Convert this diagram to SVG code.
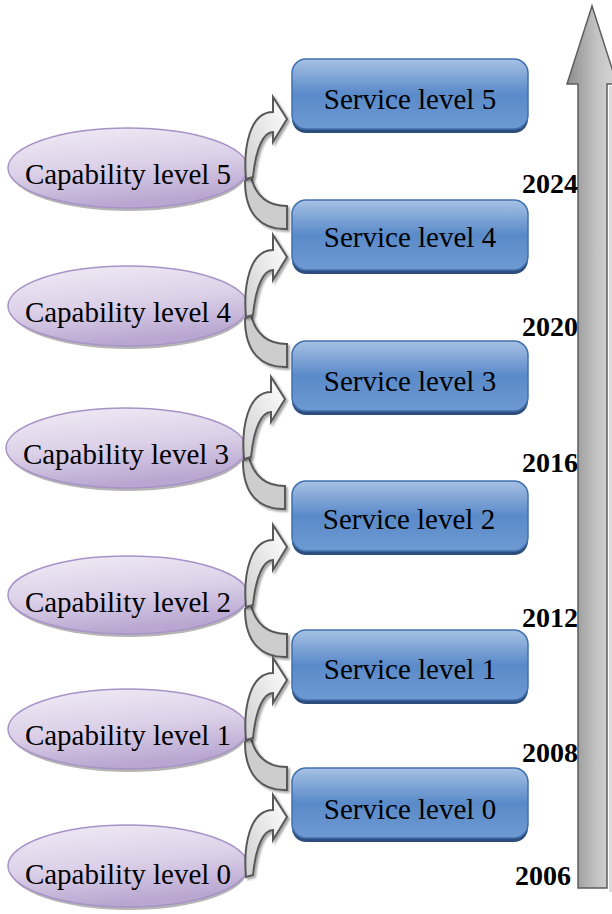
<svg xmlns="http://www.w3.org/2000/svg" width="612" height="914" viewBox="0 0 612 914">
<defs>
<linearGradient id="gBox" x1="0" y1="0" x2="0" y2="1">
<stop offset="0" stop-color="#a6c1e4"/>
<stop offset="0.5" stop-color="#5a8ac9"/>
<stop offset="1" stop-color="#6e9ad2"/>
</linearGradient>
<linearGradient id="gEll" x1="0" y1="0" x2="0.3" y2="1">
<stop offset="0" stop-color="#f1edf6"/>
<stop offset="0.55" stop-color="#dcd1e8"/>
<stop offset="1" stop-color="#b9a7d1"/>
</linearGradient>
<linearGradient id="gUp" x1="0" y1="1" x2="1" y2="0">
<stop offset="0" stop-color="#cfcfcf"/>
<stop offset="1" stop-color="#ffffff"/>
</linearGradient>
<linearGradient id="gTime" x1="0" y1="0" x2="1" y2="0">
<stop offset="0" stop-color="#8c8c8c"/>
<stop offset="0.6" stop-color="#c4c4c4"/>
<stop offset="1" stop-color="#d6d6d6"/>
</linearGradient>
<filter id="sh" x="-20%" y="-20%" width="140%" height="140%">
<feDropShadow dx="2" dy="2" stdDeviation="1" flood-color="#000" flood-opacity="0.35"/>
</filter>
</defs>
<style>
.box{fill:url(#gBox);stroke:#4170ae;stroke-width:1.5}
.boxsh{fill:#2d4d7c}
.ell{fill:url(#gEll);stroke:#a793c7;stroke-width:1.5}
.ellsh{fill:#b5b5b5}
.up{fill:url(#gUp);stroke:#595959;stroke-width:2;stroke-linejoin:miter;filter:url(#sh)}
.dn{fill:#cdcdcd;stroke:#595959;stroke-width:2;filter:url(#sh)}
.lbl{font-family:"Liberation Serif","Times New Roman",serif;font-size:29px;fill:#000;text-anchor:middle}
.yr{font-family:"Liberation Serif","Times New Roman",serif;font-size:28px;font-weight:bold;fill:#000;text-anchor:end}
</style>

<g id="timeline">
<rect x="609" y="86" width="5" height="806" fill="#dcdcdc"/>
<path d="M578,888 L578,84 L567,84 L592,6 L617,84 L607,84 L607,888 Z" fill="url(#gTime)" stroke="#5e5e5e" stroke-width="1.5"/>
<text class="yr" x="578" y="193">2024</text>
<text class="yr" x="578" y="336">2020</text>
<text class="yr" x="578" y="472">2016</text>
<text class="yr" x="578" y="627">2012</text>
<text class="yr" x="578" y="762">2008</text>
<text class="yr" x="571" y="885">2006</text>
</g>

<g id="svc5"><rect class="boxsh" x="292" y="63" width="236" height="70" rx="14"/><rect class="box" x="292" y="59" width="236" height="70" rx="14"/><text class="lbl" x="410" y="109">Service level 5</text></g>
<g id="svc4"><rect class="boxsh" x="292" y="204" width="236" height="70" rx="14"/><rect class="box" x="292" y="200" width="236" height="70" rx="14"/><text class="lbl" x="410" y="247">Service level 4</text></g>
<g id="svc3"><rect class="boxsh" x="292" y="345" width="236" height="70" rx="14"/><rect class="box" x="292" y="341" width="236" height="70" rx="14"/><text class="lbl" x="410" y="391">Service level 3</text></g>
<g id="svc2"><rect class="boxsh" x="292" y="485" width="236" height="70" rx="14"/><rect class="box" x="292" y="481" width="236" height="70" rx="14"/><text class="lbl" x="409" y="529">Service level 2</text></g>
<g id="svc1"><rect class="boxsh" x="292" y="634" width="236" height="70" rx="14"/><rect class="box" x="292" y="630" width="236" height="70" rx="14"/><text class="lbl" x="410" y="679">Service level 1</text></g>
<g id="svc0"><rect class="boxsh" x="292" y="772" width="236" height="70" rx="14"/><rect class="box" x="292" y="768" width="236" height="70" rx="14"/><text class="lbl" x="410" y="819">Service level 0</text></g>

<g id="cap5"><ellipse class="ellsh" cx="129" cy="171" rx="119" ry="40"/><ellipse class="ell" cx="128" cy="168" rx="120" ry="40"/><text class="lbl" x="128" y="184">Capability level 5</text></g>
<g id="cap4"><ellipse class="ellsh" cx="129" cy="309" rx="119" ry="40"/><ellipse class="ell" cx="128" cy="306" rx="120" ry="40"/><text class="lbl" x="128" y="322">Capability level 4</text></g>
<g id="cap3"><ellipse class="ellsh" cx="127" cy="451" rx="119" ry="40"/><ellipse class="ell" cx="126" cy="448" rx="120" ry="40"/><text class="lbl" x="126" y="464">Capability level 3</text></g>
<g id="cap2"><ellipse class="ellsh" cx="129" cy="598" rx="119" ry="39"/><ellipse class="ell" cx="128" cy="595" rx="120" ry="39"/><text class="lbl" x="128" y="612">Capability level 2</text></g>
<g id="cap1"><ellipse class="ellsh" cx="129" cy="732" rx="119" ry="40"/><ellipse class="ell" cx="128" cy="729" rx="120" ry="40"/><text class="lbl" x="128" y="745">Capability level 1</text></g>
<g id="cap0"><ellipse class="ellsh" cx="129" cy="869" rx="119" ry="41"/><ellipse class="ell" cx="128" cy="866" rx="120" ry="41"/><text class="lbl" x="128" y="884">Capability level 0</text></g>

<g id="connectors">
<g transform="translate(0,175)">
<path class="dn" d="M251,2 C256,22 268,31 287,31 L287,54 C262,55 245,40 245,6 Z"/>
<path class="up" d="M246,4 C243,-28 250,-63 273,-63 L273,-78 L287,-56 L273,-33 L273,-43 C264,-43 256,-28 253,2 Z"/>
</g>
<g transform="translate(0,313)">
<path class="dn" d="M251,2 C256,22 268,31 287,31 L287,54 C262,55 245,40 245,6 Z"/>
<path class="up" d="M246,4 C243,-28 250,-63 273,-63 L273,-78 L287,-56 L273,-33 L273,-43 C264,-43 256,-28 253,2 Z"/>
</g>
<g transform="translate(-2,455)">
<path class="dn" d="M251,2 C256,22 268,31 287,31 L287,54 C262,55 245,40 245,6 Z"/>
<path class="up" d="M246,4 C243,-28 250,-63 273,-63 L273,-78 L287,-56 L273,-33 L273,-43 C264,-43 256,-28 253,2 Z"/>
</g>
<g transform="translate(0,603)">
<path class="dn" d="M251,2 C256,22 268,31 287,31 L287,54 C262,55 245,40 245,6 Z"/>
<path class="up" d="M246,4 C243,-28 250,-63 273,-63 L273,-78 L287,-56 L273,-33 L273,-43 C264,-43 256,-28 253,2 Z"/>
</g>
<g transform="translate(0,736)">
<path class="dn" d="M251,2 C256,22 268,31 287,31 L287,54 C262,55 245,40 245,6 Z"/>
<path class="up" d="M246,4 C243,-28 250,-63 273,-63 L273,-78 L287,-56 L273,-33 L273,-43 C264,-43 256,-28 253,2 Z"/>
</g>
<g transform="translate(0,873)">
<path class="up" d="M246,4 C243,-28 250,-63 273,-63 L273,-78 L287,-56 L273,-33 L273,-43 C264,-43 256,-28 253,2 Z"/>
</g>
</g>
</svg>
